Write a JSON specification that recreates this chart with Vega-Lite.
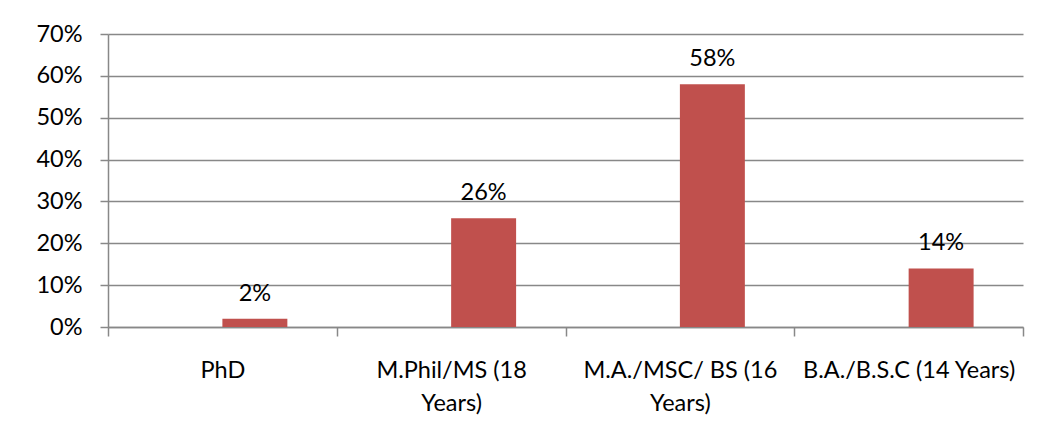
{
  "$schema": "https://vega.github.io/schema/vega-lite/v6.json",
  "width": 915,
  "height": 293,
  "autosize": {"type": "none"},
  "padding": {"left": 108, "top": 34, "right": 15, "bottom": 114},
  "background": "white",
  "config": {
    "view": {"stroke": null},
    "font": "Lato",
    "axis": {"labelFont": "Lato", "labelFontSize": 23.5, "labelColor": "#000000", "domainColor": "#888888", "tickColor": "#888888", "gridColor": "#888888", "domainWidth": 1.5, "tickWidth": 1.5, "gridWidth": 1.5}
  },
  "data": {
    "values": [
      {"level": "PhD", "share": 0.02},
      {"level": "M.Phil/MS (18 Years)", "share": 0.26},
      {"level": "M.A./MSC/ BS (16 Years)", "share": 0.58},
      {"level": "B.A./B.S.C (14 Years)", "share": 0.14}
    ]
  },
  "encoding": {
    "x": {
      "field": "level",
      "type": "nominal",
      "sort": null,
      "scale": {"paddingInner": 0, "paddingOuter": 0},
      "axis": {
        "title": null,
        "labelAngle": 0,
        "tickBand": "extent",
        "tickSize": 9,
        "labelPadding": 22,
        "labelBaseline": "top",
        "labelLineHeight": 33,
        "labelLimit": 300,
        "labelExpr": "datum.label == 'M.Phil/MS (18 Years)' ? ['M.Phil/MS (18', 'Years)'] : datum.label == 'M.A./MSC/ BS (16 Years)' ? ['M.A./MSC/ BS (16', 'Years)'] : datum.label"
      }
    },
    "y": {
      "field": "share",
      "type": "quantitative",
      "scale": {"domain": [0, 0.7], "nice": false},
      "axis": {
        "title": null,
        "values": [0, 0.1, 0.2, 0.3, 0.4, 0.5, 0.6, 0.7],
        "format": ".0%",
        "tickSize": 8,
        "labelPadding": 18
      }
    }
  },
  "layer": [
    {
      "mark": {"type": "bar", "color": "#C0504D", "width": {"band": 0.284}, "xOffset": 32.5}
    },
    {
      "mark": {"type": "text", "font": "Lato", "fontSize": 23.5, "color": "#000000", "baseline": "alphabetic", "dy": -18, "xOffset": 32.5},
      "encoding": {"text": {"field": "share", "type": "quantitative", "format": ".0%"}}
    }
  ]
}
